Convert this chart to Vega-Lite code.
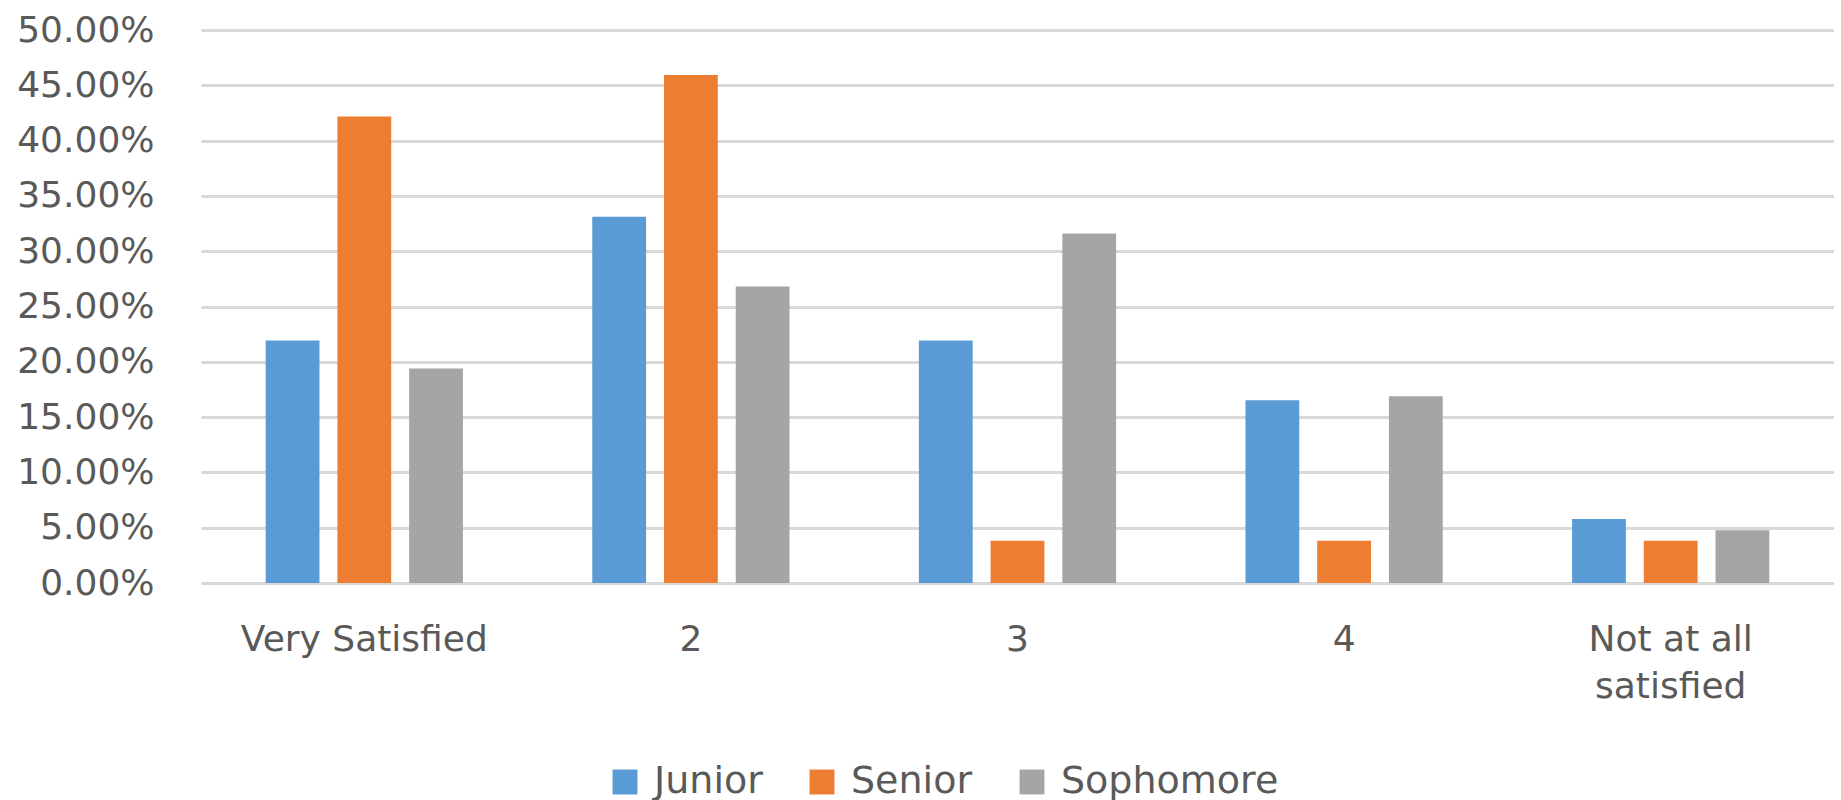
{
  "$schema": "https://vega.github.io/schema/vega-lite/v6.json",
  "width": 1633,
  "height": 553,
  "padding": {"left": 16, "top": 12, "right": 0, "bottom": 0},
  "background": "white",
  "data": {
    "values": [
      {"rating": "Very Satisfied", "class": "Junior", "share": 0.2193},
      {"rating": "Very Satisfied", "class": "Senior", "share": 0.4218},
      {"rating": "Very Satisfied", "class": "Sophomore", "share": 0.194},
      {"rating": "2", "class": "Junior", "share": 0.3312},
      {"rating": "2", "class": "Senior", "share": 0.4594},
      {"rating": "2", "class": "Sophomore", "share": 0.268},
      {"rating": "3", "class": "Junior", "share": 0.2193},
      {"rating": "3", "class": "Senior", "share": 0.0382},
      {"rating": "3", "class": "Sophomore", "share": 0.3159},
      {"rating": "4", "class": "Junior", "share": 0.1652},
      {"rating": "4", "class": "Senior", "share": 0.0382},
      {"rating": "4", "class": "Sophomore", "share": 0.1688},
      {"rating": "Not at all satisfied", "class": "Junior", "share": 0.0578},
      {"rating": "Not at all satisfied", "class": "Senior", "share": 0.0382},
      {"rating": "Not at all satisfied", "class": "Sophomore", "share": 0.0478}
    ]
  },
  "mark": "bar",
  "encoding": {
    "x": {
      "field": "rating",
      "type": "nominal",
      "sort": ["Very Satisfied", "2", "3", "4", "Not at all satisfied"],
      "scale": {"paddingInner": 0.396, "paddingOuter": 0.198},
      "axis": {
        "title": null,
        "labelAngle": 0,
        "domain": false,
        "ticks": false,
        "labelPadding": 39,
        "labelLimit": 0,
        "labelFont": "DejaVu Sans",
        "labelFontSize": 36,
        "labelColor": "#595959",
        "labelLineHeight": 47,
        "labelExpr": "datum.label == 'Not at all satisfied' ? ['Not at all', 'satisfied'] : datum.label"
      }
    },
    "xOffset": {
      "field": "class",
      "type": "nominal",
      "scale": {"paddingInner": 0.25, "paddingOuter": 0}
    },
    "y": {
      "field": "share",
      "type": "quantitative",
      "scale": {"domain": [0, 0.5]},
      "axis": {
        "title": null,
        "format": ".2%",
        "values": [0, 0.05, 0.1, 0.15, 0.2, 0.25, 0.3, 0.35, 0.4, 0.45, 0.5],
        "domain": false,
        "ticks": false,
        "labelPadding": 47,
        "labelFont": "DejaVu Sans",
        "labelFontSize": 36,
        "labelColor": "#595959",
        "gridColor": "#D9D9D9",
        "gridWidth": 3
      }
    },
    "color": {
      "field": "class",
      "type": "nominal",
      "scale": {"domain": ["Junior", "Senior", "Sophomore"], "range": ["#5B9BD5", "#ED7D31", "#A5A5A5"]},
      "legend": {
        "title": null,
        "orient": "none",
        "direction": "horizontal",
        "legendX": 405,
        "legendY": 733,
        "symbolType": "square",
        "symbolSize": 620,
        "symbolStrokeWidth": 0,
        "labelFont": "DejaVu Sans",
        "labelFontSize": 38,
        "labelLimit": 0,
        "labelColor": "#595959",
        "labelOffset": 10,
        "columnPadding": 40
      }
    }
  },
  "config": {"view": {"stroke": null}}
}
